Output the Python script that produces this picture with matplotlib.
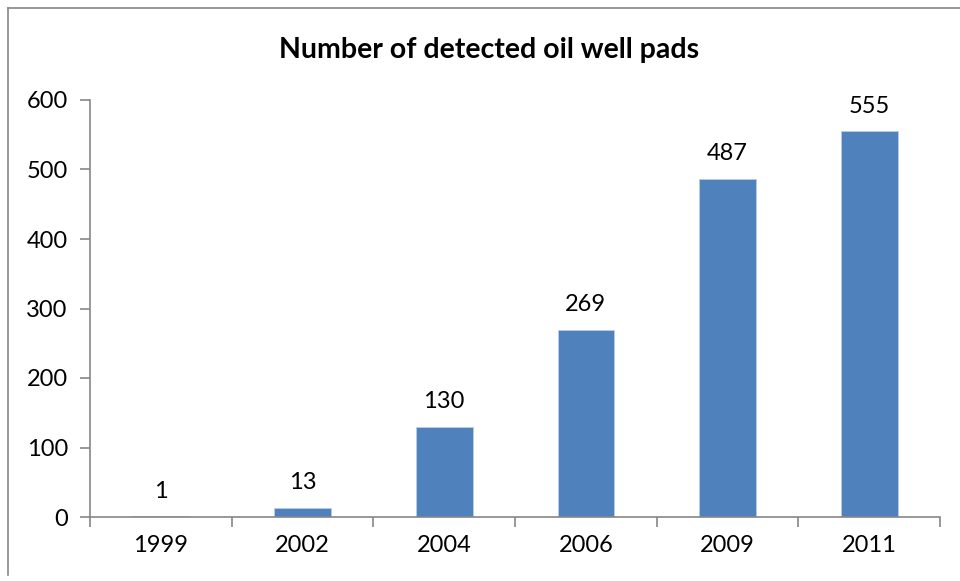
import matplotlib
matplotlib.use("Agg")
import matplotlib.pyplot as plt
from matplotlib.lines import Line2D
import numpy as np

years = ["1999", "2002", "2004", "2006", "2009", "2011"]
pads = [1, 13, 130, 269, 487, 555]
y_ticks = [0, 100, 200, 300, 400, 500, 600]

plt.rcParams["font.family"] = ["Lato", "DejaVu Sans"]

W, H = 960, 581
fig = plt.figure(figsize=(W / 100, H / 100), dpi=100)
ax = fig.add_axes([90 / W, 1 - 517 / H, 850 / W, 417 / H])

bar_color = "#4F81BD"
axis_color = "#868686"
fs = 17

x = np.arange(len(years))
ax.bar(x, pads, width=0.4, color=bar_color, edgecolor="#B9CDE5", linewidth=0.6, zorder=2)

for xi, v in zip(x, pads):
    ax.annotate(str(v), (xi, v), xytext=(0, 10.5), textcoords="offset points",
                ha="center", va="bottom", fontsize=fs, color="black")

ax.set_xlim(-0.5, len(years) - 0.5)
ax.set_ylim(0, 600)

# category boundaries carry the tick marks, centers carry the labels
ax.set_xticks(np.arange(-0.5, len(years), 1.0))
ax.set_xticklabels([])
ax.set_xticks(x, minor=True)
ax.set_xticklabels(years, minor=True, fontsize=fs)
ax.tick_params(axis="x", which="major", length=7, width=1.2, color=axis_color, direction="out")
ax.tick_params(axis="x", which="minor", length=0, pad=13)

ax.set_yticks(y_ticks)
ax.set_yticklabels([str(t) for t in y_ticks], fontsize=fs)
ax.tick_params(axis="y", length=7, width=1.2, color=axis_color, direction="out", pad=9)

for side in ("top", "right"):
    ax.spines[side].set_visible(False)
for side in ("left", "bottom"):
    ax.spines[side].set_color(axis_color)
    ax.spines[side].set_linewidth(1.2)

fig.text(489 / W, 1 - 50 / H, "Number of detected oil well pads", ha="center", va="center",
         fontsize=20.5, fontweight="bold")

# chart-area frame
frame_kw = dict(color=axis_color, linewidth=1.2, transform=fig.transFigure)
fig.add_artist(Line2D([8 / W, 8 / W], [1 - 8 / H, 1 - 575 / H], **frame_kw))
fig.add_artist(Line2D([8 / W, 1.0], [1 - 8 / H, 1 - 8 / H], **frame_kw))

fig.savefig("out.png", dpi=100)
